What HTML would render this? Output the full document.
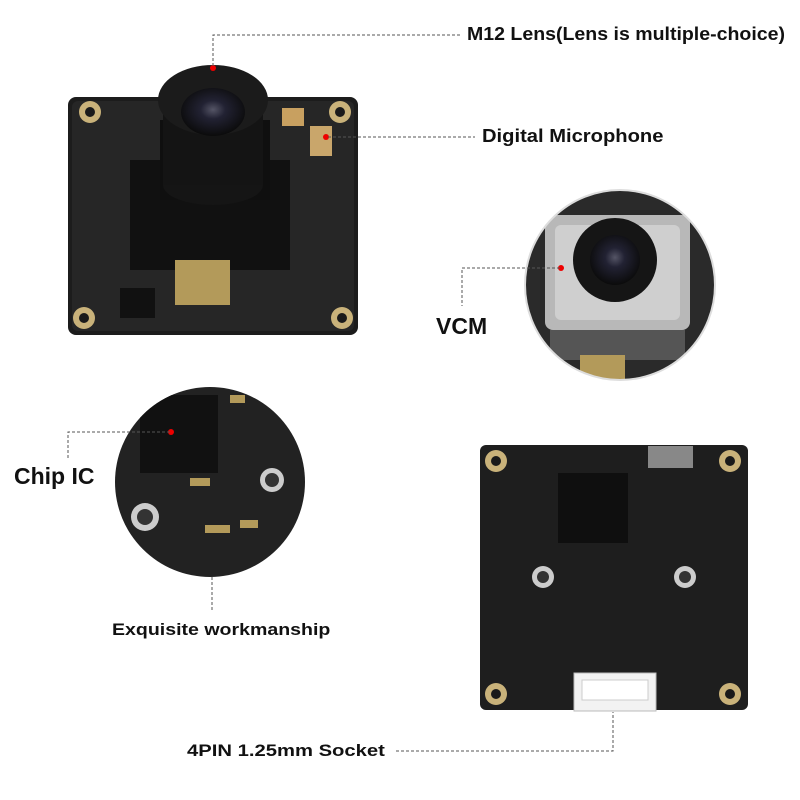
<!DOCTYPE html>
<html><head><meta charset="utf-8"><style>
body{margin:0;width:800px;height:800px;background:#fff;position:relative;overflow:hidden;font-family:"Liberation Sans",sans-serif}
.l{position:absolute;font-weight:bold;color:#111;white-space:nowrap;transform-origin:0 50%}
svg{position:absolute;left:0;top:0}
</style></head><body>
<svg width="800" height="800" viewBox="0 0 800 800">
<defs>
<radialGradient id="lens" cx="50%" cy="45%" r="55%"><stop offset="0" stop-color="#556"/><stop offset=".35" stop-color="#223"/><stop offset="1" stop-color="#0b0b0b"/></radialGradient>
<radialGradient id="c1" cx="50%" cy="50%" r="50%"><stop offset="0" stop-color="#888"/><stop offset="1" stop-color="#333"/></radialGradient>
<clipPath id="cc1"><circle cx="620" cy="285" r="95"/></clipPath>
<clipPath id="cc2"><circle cx="210" cy="482" r="95"/></clipPath>
</defs>
<rect x="68" y="97" width="290" height="238" rx="8" fill="#1c1c1c"/>
<rect x="72" y="101" width="282" height="230" rx="6" fill="#262626"/>
<g fill="#c9b27a"><circle cx="90" cy="112" r="11"/><circle cx="340" cy="112" r="11"/><circle cx="84" cy="318" r="11"/><circle cx="342" cy="318" r="11"/></g>
<g fill="#1a1a1a"><circle cx="90" cy="112" r="5"/><circle cx="340" cy="112" r="5"/><circle cx="84" cy="318" r="5"/><circle cx="342" cy="318" r="5"/></g>
<rect x="130" y="160" width="160" height="110" fill="#111"/>
<rect x="175" y="260" width="55" height="45" fill="#b39a5a"/>
<rect x="120" y="288" width="35" height="30" fill="#111"/>
<rect x="282" y="108" width="22" height="18" fill="#c8a060"/><rect x="310" y="126" width="22" height="30" fill="#c9a66b"/>
<rect x="160" y="120" width="110" height="80" fill="#0f0f0f"/>
<ellipse cx="213" cy="185" rx="50" ry="20" fill="#151515"/>
<rect x="163" y="100" width="100" height="85" fill="#141414"/>
<ellipse cx="213" cy="100" rx="55" ry="35" fill="#1b1b1b"/>
<ellipse cx="213" cy="112" rx="32" ry="24" fill="url(#lens)"/>
<circle cx="213" cy="68" r="3" fill="#e00"/>
<circle cx="326" cy="137" r="3" fill="#e00"/>
<circle cx="620" cy="285" r="95" fill="url(#c1)"/>
<g clip-path="url(#cc1)">
<rect x="520" y="190" width="200" height="200" fill="#2a2a2a"/>
<rect x="545" y="215" width="145" height="115" rx="8" fill="#b8b8b8"/>
<rect x="555" y="225" width="125" height="95" rx="6" fill="#cfcfcf"/>
<rect x="550" y="330" width="135" height="30" fill="#555"/>
<rect x="580" y="355" width="45" height="30" fill="#b39a5a"/>
<circle cx="615" cy="260" r="42" fill="#151515"/>
<circle cx="615" cy="260" r="25" fill="url(#lens)"/>
</g>
<circle cx="620" cy="285" r="95" fill="none" stroke="#ddd" stroke-width="2"/>
<circle cx="561" cy="268" r="3" fill="#e00"/>
<circle cx="210" cy="482" r="95" fill="#222"/>
<g clip-path="url(#cc2)">
<rect x="140" y="395" width="78" height="78" fill="#111"/>
<circle cx="145" cy="517" r="14" fill="#ccc"/><circle cx="145" cy="517" r="8" fill="#333"/>
<circle cx="272" cy="480" r="12" fill="#ccc"/><circle cx="272" cy="480" r="7" fill="#333"/>
<g fill="#b39a5a"><rect x="190" y="478" width="20" height="8"/><rect x="205" y="525" width="25" height="8"/><rect x="230" y="395" width="15" height="8"/><rect x="240" y="520" width="18" height="8"/></g>
</g>
<circle cx="171" cy="432" r="3" fill="#e00"/>
<rect x="480" y="445" width="268" height="265" rx="6" fill="#1e1e1e"/>
<g fill="#c9b27a"><circle cx="496" cy="461" r="11"/><circle cx="730" cy="461" r="11"/><circle cx="496" cy="694" r="11"/><circle cx="730" cy="694" r="11"/></g>
<g fill="#1a1a1a"><circle cx="496" cy="461" r="5"/><circle cx="730" cy="461" r="5"/><circle cx="496" cy="694" r="5"/><circle cx="730" cy="694" r="5"/></g>
<rect x="558" y="473" width="70" height="70" fill="#0f0f0f"/>
<rect x="648" y="446" width="45" height="22" fill="#888"/>
<circle cx="543" cy="577" r="11" fill="#ccc"/><circle cx="685" cy="577" r="11" fill="#ccc"/>
<circle cx="543" cy="577" r="6" fill="#333"/><circle cx="685" cy="577" r="6" fill="#333"/>
<rect x="574" y="673" width="82" height="38" fill="#f2f2f2" stroke="#bbb"/>
<rect x="582" y="680" width="66" height="20" fill="#fff" stroke="#ccc"/>
<g stroke="#555" stroke-width="1" stroke-dasharray="3,2" fill="none">
<path d="M213 66 V35 H460"/>
<path d="M328 137 H475"/>
<path d="M560 268 H462 V306"/>
<path d="M170 432 H68 V460"/>
<path d="M212 577 V612"/>
<path d="M396 751 H613 V712"/>
</g>
</svg>
<div class="l" style="left:467px;top:24px;font-size:18px;transform:scaleX(1.085)">M12 Lens(Lens is multiple-choice)</div>
<div class="l" style="left:482px;top:126px;font-size:18px;transform:scaleX(1.12)">Digital Microphone</div>
<div class="l" style="left:436px;top:313px;font-size:23px">VCM</div>
<div class="l" style="left:14px;top:463px;font-size:23px">Chip IC</div>
<div class="l" style="left:112px;top:620px;font-size:17px;transform:scaleX(1.15)">Exquisite workmanship</div>
<div class="l" style="left:187px;top:741px;font-size:17px;transform:scaleX(1.19)">4PIN 1.25mm Socket</div>
</body></html>
